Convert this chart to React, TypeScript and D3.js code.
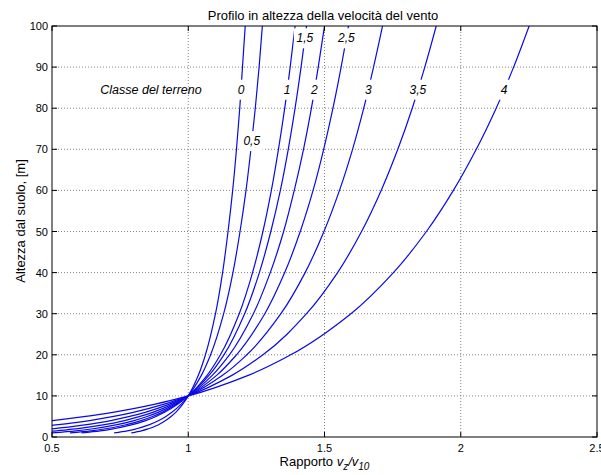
import React from "react";
import * as d3 from "d3";

// heights [m] at which the ratio v_z/v_10 was read for each terrain class
const heights = [1, 1.5, 2, 3, 4, 5, 6, 8, 10, 15, 20, 30, 40, 50, 60, 70, 80, 90, 100];

const class0 = [0.791, 0.828, 0.854, 0.891, 0.917, 0.937, 0.954, 0.98, 1, 1.037, 1.063, 1.1, 1.126, 1.146, 1.163, 1.177, 1.189, 1.199, 1.209];
const class05 = [0.728, 0.776, 0.81, 0.858, 0.892, 0.918, 0.94, 0.974, 1, 1.048, 1.082, 1.13, 1.164, 1.19, 1.212, 1.23, 1.246, 1.26, 1.272];
const class1 = [0.608, 0.677, 0.726, 0.795, 0.844, 0.882, 0.913, 0.962, 1, 1.069, 1.118, 1.187, 1.236, 1.274, 1.305, 1.331, 1.354, 1.374, 1.392];
const class15 = [0.566, 0.642, 0.697, 0.773, 0.827, 0.869, 0.904, 0.958, 1, 1.076, 1.131, 1.207, 1.261, 1.303, 1.338, 1.367, 1.392, 1.414, 1.434];
const class2 = [0.5, 0.588, 0.651, 0.739, 0.801, 0.849, 0.889, 0.952, 1, 1.088, 1.151, 1.239, 1.301, 1.35, 1.389, 1.423, 1.452, 1.477, 1.5];
const class25 = [0.412, 0.516, 0.589, 0.693, 0.766, 0.823, 0.87, 0.943, 1, 1.104, 1.177, 1.281, 1.354, 1.411, 1.458, 1.497, 1.531, 1.561, 1.588];
const class3 = [null, 0.413, 0.502, 0.627, 0.716, 0.785, 0.842, 0.931, 1, 1.126, 1.215, 1.34, 1.429, 1.498, 1.555, 1.603, 1.644, 1.68, 1.713];
const class35 = [null, null, 0.364, 0.524, 0.638, 0.726, 0.798, 0.912, 1, 1.16, 1.274, 1.434, 1.548, 1.636, 1.708, 1.769, 1.822, 1.868, 1.91];
const class4 = [null, null, null, 0.346, 0.502, 0.624, 0.723, 0.879, 1, 1.22, 1.376, 1.597, 1.753, 1.874, 1.973, 2.057, 2.13, 2.194, 2.251];

const classNames = ["0", "0,5", "1", "1,5", "2", "2,5", "3", "3,5", "4"];
const series = [class0, class05, class1, class15, class2, class25, class3, class35, class4];
const labelRatio = [1.194, 1.233, 1.363, 1.428, 1.463, 1.58, 1.661, 1.843, 2.159];
const labelHeight = [84.5, 72, 84.5, 97, 84.5, 97, 84.5, 84.5, 84.5];

const xTicks = [0.5, 1, 1.5, 2, 2.5];
const yTicks = [0, 10, 20, 30, 40, 50, 60, 70, 80, 90, 100];

const W = 601;
const H = 475;
const left = 52, right = 597, top = 26, bottom = 437;
const font = "'Liberation Sans', Arial, Helvetica, sans-serif";
const blue = "#0a0ae6";

export default function App() {
  const x = d3.scaleLinear().domain([0.5, 2.5]).range([left, right]);
  const y = d3.scaleLinear().domain([0, 100]).range([bottom, top]);

  const line = d3
    .line<[number | null, number]>()
    .defined((d) => d[0] !== null)
    .x((d) => x(d[0] as number))
    .y((d) => y(d[1]))
    .curve(d3.curveMonotoneY);

  return (
    <svg width={W} height={H} style={{ position: "absolute", left: 0, top: 0, background: "#fff" }} fontFamily={font}>
      <defs>
        <clipPath id="plot">
          <rect x={left} y={top} width={right - left} height={bottom - top} />
        </clipPath>
      </defs>
      <rect x={0} y={0} width={W} height={H} fill="#fff" />

      {/* grid */}
      {xTicks.slice(1, -1).map((t) => (
        <line key={"gx" + t} x1={x(t)} x2={x(t)} y1={top} y2={bottom} stroke="#666" strokeWidth={0.8} strokeDasharray="1,2" />
      ))}
      {yTicks.slice(1, -1).map((t) => (
        <line key={"gy" + t} x1={left} x2={right} y1={y(t)} y2={y(t)} stroke="#666" strokeWidth={0.8} strokeDasharray="1,2" />
      ))}

      {/* curves */}
      <g clipPath="url(#plot)">
        {series.map((s, i) => (
          <path
            key={"c" + i}
            d={line(heights.map((h, j) => [s[j], h] as [number | null, number])) || ""}
            fill="none"
            stroke={blue}
            strokeWidth={1.2}
          />
        ))}
      </g>

      {/* curve labels with a gap in the line */}
      {classNames.map((n, i) => {
        const cx = x(labelRatio[i]);
        const cy = y(labelHeight[i]);
        const w = n.length * 6 + 4;
        return (
          <g key={"l" + i}>
            <rect x={cx - w / 2} y={cy - 10} width={w} height={20} fill="#fff" />
            <text x={cx} y={cy + 4} fontSize={12} fontStyle="italic" textAnchor="middle" fill="#000">
              {n}
            </text>
          </g>
        );
      })}
      <text x={151} y={94} fontSize={12.5} fontStyle="italic" textAnchor="middle" fill="#000">
        Classe del terreno
      </text>

      {/* box */}
      <rect x={left} y={top} width={right - left} height={bottom - top} fill="none" stroke="#000" strokeWidth={1} />

      {/* ticks */}
      {xTicks.map((t) => (
        <g key={"tx" + t}>
          <line x1={x(t)} x2={x(t)} y1={bottom} y2={bottom - 5} stroke="#000" />
          <line x1={x(t)} x2={x(t)} y1={top} y2={top + 5} stroke="#000" />
          <text x={x(t)} y={bottom + 15} fontSize={11} textAnchor="middle" fill="#000">
            {String(t)}
          </text>
        </g>
      ))}
      {yTicks.map((t) => (
        <g key={"ty" + t}>
          <line x1={left} x2={left + 5} y1={y(t)} y2={y(t)} stroke="#000" />
          <line x1={right} x2={right - 5} y1={y(t)} y2={y(t)} stroke="#000" />
          <text x={left - 4} y={y(t) + 4} fontSize={11} textAnchor="end" fill="#000">
            {String(t)}
          </text>
        </g>
      ))}

      {/* titles */}
      <text x={323} y={20} fontSize={13} textAnchor="middle" fill="#000">
        Profilo in altezza della velocità del vento
      </text>
      <text transform="translate(25,221) rotate(-90)" fontSize={13} textAnchor="middle" fill="#000">
        Altezza dal suolo, [m]
      </text>
      <text x={(left + right) / 2} y={466} fontSize={13} textAnchor="middle" fill="#000">
        Rapporto <tspan fontStyle="italic">v</tspan>
        <tspan fontStyle="italic" fontSize={10} dy={4}>z</tspan>
        <tspan fontStyle="italic" dy={-4}>/v</tspan>
        <tspan fontStyle="italic" fontSize={10} dy={4}>10</tspan>
      </text>
    </svg>
  );
}
